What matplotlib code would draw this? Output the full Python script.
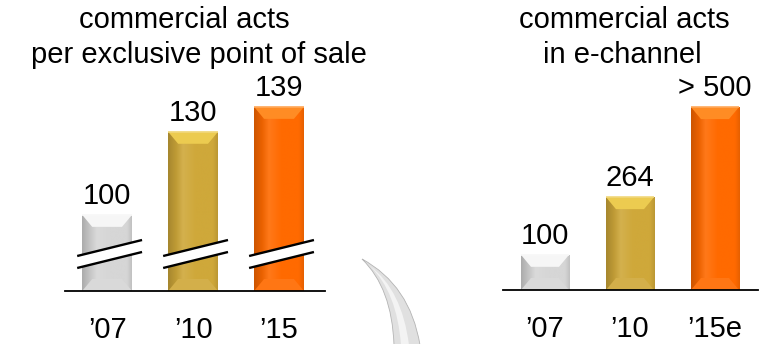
import numpy as np
import matplotlib
matplotlib.use("Agg")
import matplotlib.pyplot as plt
from matplotlib.patches import Polygon, PathPatch
from matplotlib.path import Path
from matplotlib.colors import LinearSegmentedColormap, to_rgb

plt.rcParams["font.family"] = ["Liberation Sans", "DejaVu Sans"]

# ---- data -------------------------------------------------------------
left_title = ["commercial acts", "per exclusive point of sale"]
left_years = ["\u201907", "\u201910", "\u201915"]
left_values = [100, 130, 139]

right_title = ["commercial acts", "in e-channel"]
right_years = ["\u201907", "\u201910", "\u201915e"]
right_values = [100, 264, 520]
right_labels = ["100", "264", "> 500"]

# ---- style ------------------------------------------------------------
bar_colors = ["#d6d6d6", "#cfa83a", "#ff6a00"]
bevel_colors = ["#f6f6f6", "#eccb50", "#ff8c24"]
FS = 21

W, H = 763, 344
fig = plt.figure(figsize=(W / 100, H / 100), dpi=100)


def axes_px(x0, x1, ytop, ybase):
    return fig.add_axes([x0 / W, 1 - ybase / H, (x1 - x0) / W, (ybase - ytop) / H])


def shade(c, f):
    return tuple(np.clip(np.array(to_rgb(c)) * f, 0, 1))


def tint(c, a):
    rgb = np.array(to_rgb(c))
    return tuple(rgb + (1 - rgb) * a)


def px_to_data(ax, dx, dy):
    inv = ax.transData.inverted()
    (x0, y0), (x1, y1) = inv.transform([(0, 0), (dx, dy)])
    return x1 - x0, y1 - y0


def beveled_bar(ax, rect, color, bevel, bevel_px=(10, 12)):
    x0, y0 = rect.get_x(), rect.get_y()
    x1, y1 = x0 + rect.get_width(), y0 + rect.get_height()
    bx, by = px_to_data(ax, *bevel_px)
    rect.set_facecolor(color)
    rect.set_edgecolor("none")
    cmap = LinearSegmentedColormap.from_list(
        "bar", [(0, shade(color, .80)), (0.16, shade(color, .92)),
                (0.30, tint(color, .10)), (0.55, color), (0.90, color),
                (1.0, shade(color, .90))])
    grad = np.linspace(0, 1, 256)[None, :]
    im = ax.imshow(grad, extent=[x0, x1, y0, y1], aspect="auto", cmap=cmap,
                   origin="lower", zorder=2, interpolation="bilinear")
    im.set_clip_path(rect)
    ax.add_patch(Polygon([(x0, y0), (x1, y0), (x1 - bx, y0 + by), (x0 + bx, y0 + by)],
                         closed=True, fc=tint(color, .08), ec="none", zorder=3))
    ax.add_patch(Polygon([(x0, y1), (x1, y1), (x1 - bx, y1 - by), (x0 + bx, y1 - by)],
                         closed=True, fc=bevel, ec="none", zorder=3))
    ax.add_patch(Polygon([(x0, y1), (x1, y1)], closed=False, fill=False,
                         ec=tint(bevel, .25), lw=1.2, zorder=3))


def style_axes(ax, labels):
    for s in ("top", "left", "right"):
        ax.spines[s].set_visible(False)
    ax.spines["bottom"].set_linewidth(1.3)
    ax.spines["bottom"].set_color("black")
    ax.spines["bottom"].set_zorder(6)
    ax.set_yticks([])
    ax.set_xticks(np.arange(len(labels)), labels)
    ax.tick_params(axis="x", length=0, pad=18, labelsize=FS)
    ax.patch.set_visible(False)


# ---- left panel: broken axis ------------------------------------------
ax1 = axes_px(65, 325, 80, 291)
base = 72.5
xl = np.arange(len(left_values))
ax1.set_xlim(-0.49, 2.535)
ax1.set_ylim(base, 148.7)
bars1 = ax1.bar(xl, [v - base for v in left_values], bottom=base, width=0.58)
for rect, c, b in zip(bars1, bar_colors, bevel_colors):
    beveled_bar(ax1, rect, c, b)
ax1.set_xlim(-0.49, 2.535)
ax1.set_ylim(base, 148.7)

# break marks across each bar
for rect in bars1:
    ox_l, _ = px_to_data(ax1, 5, 0)
    ox_r, _ = px_to_data(ax1, 10, 0)
    _, low = px_to_data(ax1, 0, 23)
    _, rise = px_to_data(ax1, 0, 16)
    _, gap = px_to_data(ax1, 0, 12)
    lx = rect.get_x() - ox_l
    rx = rect.get_x() + rect.get_width() + ox_r
    y_lo = base + low
    ax1.add_patch(Polygon([(lx, y_lo), (rx, y_lo + rise), (rx, y_lo + rise + gap),
                           (lx, y_lo + gap)], closed=True, fc="white", ec="none",
                          zorder=4))
    for off in (0, gap):
        ax1.plot([lx, rx], [y_lo + off, y_lo + rise + off], color="black",
                 lw=1.7, zorder=5, solid_capstyle="butt")

for xi, v in zip(xl, left_values):
    ax1.annotate(str(v), xy=(xi, v), xytext=(0, 11), textcoords="offset pixels",
                 ha="center", va="baseline", fontsize=FS)
style_axes(ax1, left_years)

# ---- right panel ------------------------------------------------------
ax2 = axes_px(503, 758, 80, 290)
xr = np.arange(len(right_values))
ax2.set_xlim(-0.494, 2.506)
ax2.set_ylim(0, 597)
bars2 = ax2.bar(xr, right_values, width=0.565)
for rect, c, b in zip(bars2, bar_colors, bevel_colors):
    beveled_bar(ax2, rect, c, b)
ax2.set_xlim(-0.494, 2.506)
ax2.set_ylim(0, 597)
for xi, v, lbl in zip(xr, right_values, right_labels):
    ax2.annotate(lbl, xy=(xi, v), xytext=(0, 11), textcoords="offset pixels",
                 ha="center", va="baseline", fontsize=FS)
style_axes(ax2, right_years)

# ---- titles -----------------------------------------------------------
for txt, cx, by in zip(left_title, (184, 199), (28, 63)):
    fig.text(cx / W, 1 - by / H, txt, ha="center", va="baseline", fontsize=FS)
for txt, cx, by in zip(right_title, (624, 622), (28, 63)):
    fig.text(cx / W, 1 - by / H, txt, ha="center", va="baseline", fontsize=FS)


# ---- decorative grey swoosh between the panels -----------------------
def fp(x, y):
    return (x / W, 1 - y / H)


outer = Path([fp(362, 259), fp(392, 288), fp(394, 345), fp(420, 345),
              fp(410, 285), fp(362, 259)],
             [Path.MOVETO, Path.CURVE3, Path.CURVE3, Path.LINETO,
              Path.CURVE3, Path.CURVE3])
fig.add_artist(PathPatch(outer, fc="#e0e0e0", ec="#b4b4b4", lw=0.6,
                         transform=fig.transFigure))
inner = Path([fp(370, 266), fp(397, 292), fp(401, 345), fp(409, 345),
              fp(402, 290), fp(370, 266)],
             [Path.MOVETO, Path.CURVE3, Path.CURVE3, Path.LINETO,
              Path.CURVE3, Path.CURVE3])
fig.add_artist(PathPatch(inner, fc="#f3f3f3", ec="none",
                         transform=fig.transFigure))

fig.savefig("out.png", dpi=100)
